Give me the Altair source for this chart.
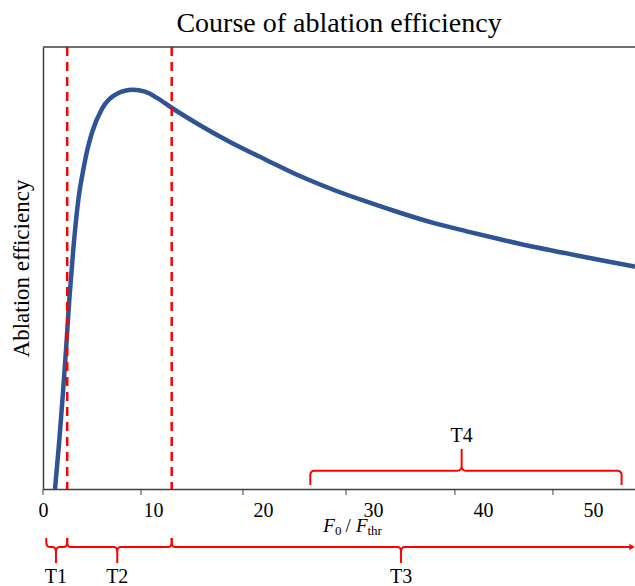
import altair as alt
import pandas as pd
import numpy as np

# ---- data ----
curve_x = [1.09, 1.45, 1.79, 2.09, 2.39, 2.75, 3.21, 3.66, 4.0, 4.45, 5.36, 6.73,
           8.18, 9.27, 10.36, 11.73, 14.0, 17.0, 20.34, 23.36, 26.39, 29.43, 32.45,
           35.48, 38.52, 41.55, 44.57, 47.61, 50.64, 53.82]
curve_y = [0, 10, 20.9, 31.4, 42.8, 54.1, 65.4, 72.2, 76.4, 80.6, 86.0, 89.4,
           90.3, 89.9, 88.5, 86.2, 82.7, 78.5, 74.4, 70.8, 67.7, 65.0, 62.5,
           60.2, 58.3, 56.5, 54.8, 53.3, 51.8, 50.3]

threshold_x = [2.2, 11.7]          # red dashed lines

x_labels = [0, 10, 20, 30, 40, 50]
x_tick_marks = [0, 8.91, 18.18, 27.55, 37.45, 46.36]   # tick marks as drawn in the reference

# brace definitions: start, end, tip position
brace_names = ["T1", "T2", "T3", "T4"]
brace_start = [0.3, 2.2, 11.7, 24.3]
brace_end = [2.2, 11.7, 53.6, 52.6]
brace_tip = [1.18, 6.75, 32.55, 38.06]

XMAX = 53.82
W, H = 592, 442
PX_X = W / XMAX
PX_Y = H / 100.0


def brace_points(name, x0, x1, xm, yh, yend, ytip, rxp, ryp, arrow=False, n=5):
    s = 1 if yend > yh else -1
    rx, ry = rxp / PX_X, ryp / PX_Y
    t = np.linspace(0, np.pi / 2, n)
    pts = [(x0, yend)]
    cx, cy = x0 + rx, yh + s * ry
    pts += list(zip(cx - rx * np.cos(t), cy - s * ry * np.sin(t)))
    cx, cy = xm - rx, yh - s * ry
    pts += list(zip(cx + rx * np.sin(t), cy + s * ry * np.cos(t)))
    pts.append((xm, ytip))
    cx, cy = xm + rx, yh - s * ry
    pts += list(zip(cx - rx * np.cos(t), cy + s * ry * np.sin(t)))
    if arrow:
        pts.append((x1, yh))
    else:
        cx, cy = x1 - rx, yh + s * ry
        pts += list(zip(cx + rx * np.sin(t), cy - s * ry * np.cos(t)))
        pts.append((x1, yend))
    return [{"x": float(a), "y": float(b), "brace": name, "o": i} for i, (a, b) in enumerate(pts)]


def py(p):  # pixel row -> data y
    return (489 - p) / PX_Y


rows = []
for i, name in enumerate(brace_names):
    if name == "T4":
        rows += brace_points(name, brace_start[i], brace_end[i], brace_tip[i],
                             py(470.7), py(485), py(449), 4, 4)
    else:
        rows += brace_points(name, brace_start[i], brace_end[i], brace_tip[i],
                             py(547), py(538), py(563), 3, 4.5, arrow=(name == "T3"))
brace_df = pd.DataFrame(rows)

label_df = pd.DataFrame({
    "x": brace_tip,
    "y": [py(583), py(583), py(583), py(441.7)],
    "t": brace_names,
})

arrow_df = pd.DataFrame({"x": [53.55], "y": [py(547)]})

curve_df = pd.DataFrame({"x": curve_x, "y": curve_y})
vline_df = pd.DataFrame({"x": threshold_x})
top_df = pd.DataFrame({"y": [100]})
tick_df = pd.DataFrame({"x": x_tick_marks, "y": [0.0] * len(x_tick_marks),
                        "y2": [py(495)] * len(x_tick_marks)})

ital_df = pd.DataFrame({"x": [(323.3 - 43) / PX_X, (356 - 43) / PX_X],
                        "y": [py(532.3), py(532.3)], "t": ["F", "F"]})
sub_df = pd.DataFrame({"x": [(335 - 43) / PX_X, (345.5 - 43) / PX_X, (367.5 - 43) / PX_X],
                       "y": [py(535), py(532.3), py(535)],
                       "t": ["0", "/", "thr"], "s": [13, 19, 13]})

FONT = "Times New Roman, Liberation Serif, DejaVu Serif, serif"
xscale = alt.Scale(domain=[0, XMAX], nice=False, zero=False)
yscale = alt.Scale(domain=[0, 100], nice=False, zero=False)
xaxis = alt.Axis(values=x_labels, title=None, grid=False, labelFont=FONT, labelFontSize=20,
                 labelColor="black", ticks=False, domainColor="#404040", domainWidth=1.5,
                 labelPadding=11, labelFlush=False)
yaxis = alt.Axis(title="Ablation efficiency", labels=False, ticks=False, grid=False,
                 domainColor="#404040", domainWidth=1.5, titleFont=FONT, titleFontSize=23,
                 titleFontWeight="normal", titleColor="black", titlePadding=10)
X = alt.X("x:Q", scale=xscale, axis=xaxis)
Y = alt.Y("y:Q", scale=yscale, axis=yaxis)

curve = alt.Chart(curve_df).mark_line(color="#2E5496", strokeWidth=4.5,
                                      interpolate="monotone").encode(x=X, y=Y)
vlines = alt.Chart(vline_df).mark_rule(color="#FF0000", strokeWidth=2.5,
                                       strokeDash=[9, 6]).encode(x=X)
top = alt.Chart(top_df).mark_rule(color="#404040", strokeWidth=1.5).encode(y=Y)
ticks = alt.Chart(tick_df).mark_rule(color="#404040", strokeWidth=1).encode(
    x=X, y=Y, y2="y2:Q")
braces = alt.Chart(brace_df).mark_line(color="#FF0000", strokeWidth=2).encode(
    x=X, y=Y, detail="brace:N", order="o:Q")
arrow = alt.Chart(arrow_df).mark_point(shape="triangle-right", filled=True, color="#FF0000",
                                       size=40, opacity=1).encode(x=X, y=Y)
labels = alt.Chart(label_df).mark_text(font=FONT, fontSize=20, color="black",
                                       align="center", baseline="alphabetic").encode(
    x=X, y=Y, text="t:N")
ital = alt.Chart(ital_df).mark_text(font=FONT, fontSize=19, fontStyle="italic", color="black",
                                    align="left", baseline="alphabetic").encode(
    x=X, y=Y, text="t:N")
subs = alt.Chart(sub_df).mark_text(font=FONT, color="black", align="left",
                                   baseline="alphabetic").encode(
    x=X, y=Y, text="t:N", size=alt.Size("s:Q", scale=None, legend=None))

chart = alt.layer(curve, vlines, top, ticks, braces, arrow, labels, ital, subs).properties(
    width=W, height=H,
    title=alt.TitleParams("Course of ablation efficiency", font=FONT, fontSize=28,
                          fontWeight="normal", color="black", anchor="middle", offset=8),
    autosize=alt.AutoSizeParams(type="none"),
    padding={"left": 43, "top": 47, "right": 0, "bottom": 97},
    background="white",
).configure_view(stroke=None)

chart.save("out.html", embed_options={"renderer": "svg", "actions": False})
